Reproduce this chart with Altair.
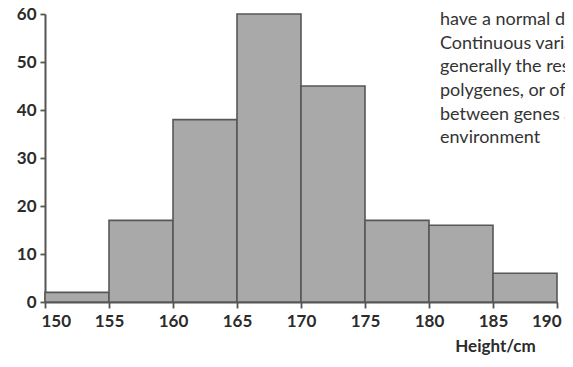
import altair as alt
import pandas as pd

# Data
bin_start = [150, 155, 160, 165, 170, 175, 180, 185]
bin_end = [155, 160, 165, 170, 175, 180, 185, 190]
counts = [2, 17, 38, 60, 45, 17, 16, 6]
x_ticks = [150, 155, 160, 165, 170, 175, 180, 185, 190]
y_ticks = [0, 10, 20, 30, 40, 50, 60]
x_title = "Height/cm"
note_lines = [
    "heights of a group of people",
    "have a normal distribution",
    " ",
    "Continuous variation is",
    "generally the result of",
    "polygenes, or of interaction",
    "between genes and the",
    "environment",
]

FONT = "Lato"
AXIS_COLOR = "#555555"
LABEL_COLOR = "#2b2b2b"

df = pd.DataFrame({"start": bin_start, "end": bin_end, "count": counts})

bars = alt.Chart(df).mark_bar(
    color="#a9a9a9", stroke="#575757", strokeWidth=1.6
).encode(
    x=alt.X(
        "start:Q",
        scale=alt.Scale(domain=[150, 190], nice=False, zero=False),
        axis=alt.Axis(
            values=x_ticks,
            title=x_title,
            titleX=450,
            titleY=49,
            titleAlign="center",
            titleBaseline="alphabetic",
            titleFont=FONT,
            titleFontSize=17,
            titleFontWeight="bold",
            titleColor=LABEL_COLOR,
            labelFont=FONT,
            labelFontSize=17,
            labelFontWeight="bold",
            labelColor=LABEL_COLOR,
            labelPadding=5,
            labelFlush=True,
            labelFlushOffset=4,
            tickSize=6,
            tickColor=AXIS_COLOR,
            tickWidth=1.8,
            domainColor=AXIS_COLOR,
            domainWidth=2,
            grid=False,
        ),
    ),
    x2="end:Q",
    y=alt.Y(
        "count:Q",
        scale=alt.Scale(domain=[0, 60], nice=False),
        axis=alt.Axis(
            values=y_ticks,
            title=None,
            labelFont=FONT,
            labelFontSize=17,
            labelFontWeight="bold",
            labelColor=LABEL_COLOR,
            labelPadding=4,
            tickSize=5,
            tickColor=AXIS_COLOR,
            tickWidth=1.8,
            domainColor=AXIS_COLOR,
            domainWidth=2,
            grid=False,
            labelFlush=False,
        ),
    ),
    y2=alt.datum(0),
)

note = alt.Chart(pd.DataFrame({"k": [0]})).mark_text(
    text=note_lines,
    align="left",
    baseline="alphabetic",
    lineHeight=23.7,
    fontSize=18,
    font=FONT,
    color="#333333",
).encode(x=alt.value(395), y=alt.value(-12.7))

chart = alt.layer(bars, note).properties(
    width=512,
    height=288,
    autosize=alt.AutoSizeParams(type="none"),
    padding={"left": 37, "top": 6, "right": 8, "bottom": 53},
).configure_view(stroke=None)

chart.save("out.html", embed_options={"renderer": "svg", "actions": False})
